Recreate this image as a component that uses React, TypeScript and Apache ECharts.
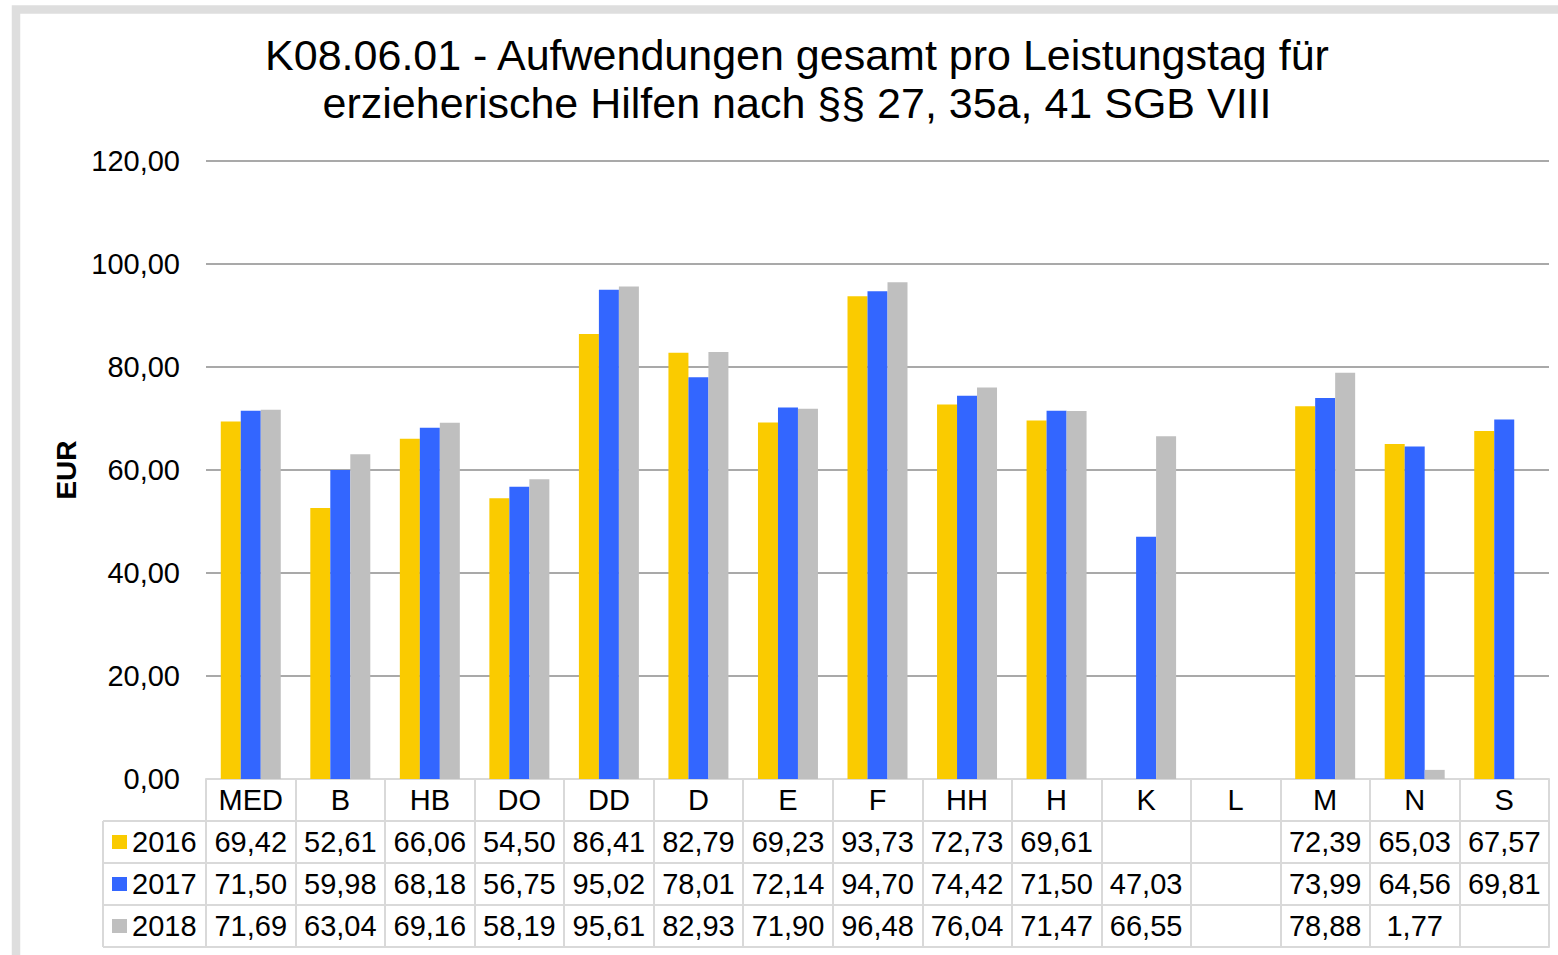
import React, { useEffect, useRef } from "react";
import * as echarts from "echarts";

const categories = ["MED", "B", "HB", "DO", "DD", "D", "E", "F", "HH", "H", "K", "L", "M", "N", "S"];
const years = ["2016", "2017", "2018"];
const values2016 = [69.42, 52.61, 66.06, 54.5, 86.41, 82.79, 69.23, 93.73, 72.73, 69.61, null, null, 72.39, 65.03, 67.57];
const values2017 = [71.5, 59.98, 68.18, 56.75, 95.02, 78.01, 72.14, 94.7, 74.42, 71.5, 47.03, null, 73.99, 64.56, 69.81];
const values2018 = [71.69, 63.04, 69.16, 58.19, 95.61, 82.93, 71.9, 96.48, 76.04, 71.47, 66.55, null, 78.88, 1.77, null];
const colors = ["#FACB00", "#3366FF", "#BFBFBF"];
const titleText = "K08.06.01 - Aufwendungen gesamt pro Leistungstag für\nerzieherische Hilfen nach §§ 27, 35a, 41 SGB VIII";

const FONT = "'Liberation Sans', Arial, sans-serif";
const fmt = (v: number | null) => (v === null || v === undefined ? "" : v.toFixed(2).replace(".", ","));

export default function App() {
  const ref = useRef<HTMLDivElement>(null);
  useEffect(() => {
    if (!ref.current) return;
    const chart = echarts.init(ref.current, null, { renderer: "svg" });
    const gridLeft = 206;
    const gridRight = 1549;
    const base = 779;
    const rowH = 42;
    const border = "#D9D9D9";
    const rows = [values2016, values2017, values2018];
    const fs = 29;

    const tableAxis = (offset: number, labels: ((i: number) => string) | null, ticks: boolean) => ({
      type: "category",
      gridIndex: 0,
      position: "bottom",
      offset,
      data: categories,
      boundaryGap: true,
      axisLine: { show: true, lineStyle: { color: border, width: 2 } },
      axisTick: { show: ticks, interval: 0, length: rowH, lineStyle: { color: border, width: 2 } },
      axisLabel: labels
        ? {
            show: true,
            interval: 0,
            margin: rowH / 2,
            verticalAlign: "middle",
            fontSize: fs,
            color: "#000",
            fontFamily: FONT,
            formatter: (_v: string, i: number) => labels(i),
          }
        : { show: false },
      splitLine: { show: false },
    });

    const xAxes: any[] = [
      tableAxis(0, (i) => categories[i], true),
      tableAxis(rowH, (i) => fmt(rows[0][i]), true),
      tableAxis(rowH * 2, (i) => fmt(rows[1][i]), true),
      tableAxis(rowH * 3, (i) => fmt(rows[2][i]), true),
      tableAxis(rowH * 4, null, false),
    ];

    const legends = years.map((y, k) => ({
      data: [y],
      left: 112,
      top: base + rowH * (k + 1) + rowH / 2 - 16,
      padding: 0,
      itemWidth: 15,
      itemHeight: 14,
      itemGap: 5,
      icon: "rect",
      selectedMode: false,
      textStyle: { fontSize: fs, lineHeight: 32, color: "#000", fontFamily: FONT, padding: [0, 0, 0, 0] },
    }));

    const leftLines: any[] = [];
    for (let r = 1; r <= 4; r++) {
      leftLines.push({
        type: "line",
        silent: true,
        shape: { x1: 103, y1: base + rowH * r, x2: gridLeft, y2: base + rowH * r },
        style: { stroke: border, lineWidth: 2 },
      });
    }
    leftLines.push({
      type: "line",
      silent: true,
      shape: { x1: 103, y1: base + rowH, x2: 103, y2: base + rowH * 4 },
      style: { stroke: border, lineWidth: 2 },
    });

    chart.setOption({
      animation: false,
      backgroundColor: "#fff",
      textStyle: { fontFamily: FONT },
      color: colors,
      title: {
        text: titleText,
        left: 797,
        textAlign: "center",
        top: 31,
        padding: 0,
        textStyle: { fontSize: 43, fontWeight: "normal", color: "#000", lineHeight: 48, fontFamily: FONT },
      },
      legend: legends,
      grid: { left: gridLeft, right: 1558 - gridRight, top: 161, bottom: 955 - base, containLabel: false },
      xAxis: xAxes,
      yAxis: {
        type: "value",
        min: 0,
        max: 120,
        interval: 20,
        name: "EUR",
        nameLocation: "middle",
        nameRotate: 90,
        nameGap: 126,
        nameTextStyle: { fontSize: 28, fontWeight: "bold", color: "#000", fontFamily: FONT },
        axisLine: { show: false },
        axisTick: { show: false },
        axisLabel: { fontSize: fs, color: "#000", margin: 26, fontFamily: FONT, formatter: (v: number) => fmt(v) },
        splitLine: { show: true, showMinLine: false, lineStyle: { color: "#8C8C8C", width: 1.5 } },
      },
      series: [values2016, values2017, values2018].map((d, k) => ({
        type: "bar",
        name: years[k],
        data: d,
        xAxisIndex: 0,
        barGap: "0%",
        barCategoryGap: "33%",
        itemStyle: { color: colors[k] },
      })),
      graphic: [
        {
          type: "rect",
          silent: true,
          shape: { x: 16, y: 9.5, width: 3000, height: 3000 },
          style: { fill: "none", stroke: "#DEDEDE", lineWidth: 8.5 },
        },
        ...leftLines,
      ],
    });
    return () => chart.dispose();
  }, []);
  return <div ref={ref} style={{ position: "fixed", left: 0, top: 0, width: 1558, height: 955 }} />;
}
